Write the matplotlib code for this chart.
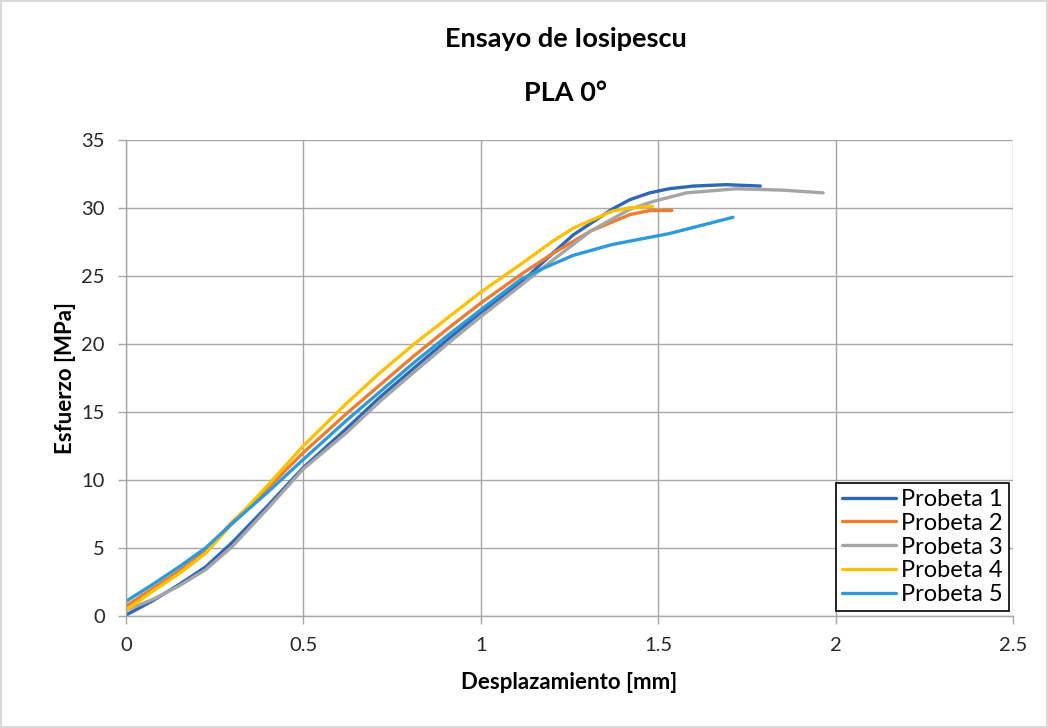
import matplotlib.pyplot as plt

plt.rcParams['font.family'] = ['Lato', 'DejaVu Sans']

# Probeta 1
x1 = [0, 0.075, 0.15, 0.225, 0.3, 0.4, 0.5, 0.623, 0.717, 0.811, 0.906, 1.0, 1.113, 1.2, 1.26, 1.37, 1.42, 1.476, 1.53, 1.6, 1.69, 1.787]
y1 = [0.05, 1.1, 2.3, 3.6, 5.4, 8.1, 10.9, 13.8, 16.1, 18.2, 20.3, 22.3, 24.5, 26.6, 28.0, 29.9, 30.6, 31.1, 31.4, 31.6, 31.7, 31.6]
# Probeta 2
x2 = [0, 0.075, 0.15, 0.225, 0.3, 0.4, 0.5, 0.623, 0.717, 0.811, 0.906, 1.0, 1.113, 1.2, 1.31, 1.42, 1.476, 1.538]
y2 = [0.7, 2.0, 3.3, 4.8, 6.9, 9.4, 12.0, 14.9, 17.0, 19.1, 21.1, 23.0, 25.1, 26.6, 28.3, 29.5, 29.8, 29.8]
# Probeta 3
x3 = [0, 0.075, 0.15, 0.225, 0.3, 0.4, 0.5, 0.623, 0.717, 0.811, 0.906, 1.0, 1.113, 1.2, 1.31, 1.42, 1.49, 1.58, 1.72, 1.85, 1.964]
y3 = [0.4, 1.2, 2.2, 3.4, 5.1, 7.9, 10.8, 13.5, 15.8, 17.9, 20.0, 22.0, 24.3, 26.1, 28.3, 29.9, 30.5, 31.1, 31.4, 31.3, 31.1]
# Probeta 4
x4 = [0, 0.075, 0.15, 0.225, 0.3, 0.4, 0.5, 0.623, 0.717, 0.811, 0.906, 1.0, 1.113, 1.2, 1.26, 1.37, 1.42, 1.484]
y4 = [0.4, 1.8, 3.1, 4.6, 6.8, 9.6, 12.5, 15.65, 17.9, 19.96, 21.9, 23.8, 25.86, 27.5, 28.5, 29.75, 30.0, 30.1]
# Probeta 5
x5 = [0, 0.075, 0.15, 0.225, 0.3, 0.4, 0.5, 0.623, 0.717, 0.811, 0.906, 1.0, 1.113, 1.18, 1.26, 1.37, 1.53, 1.71]
y5 = [1.06, 2.3, 3.6, 5.0, 6.8, 9.1, 11.5, 14.4, 16.5, 18.6, 20.6, 22.5, 24.75, 25.6, 26.5, 27.3, 28.1, 29.3]

labels = ["Probeta 1", "Probeta 2", "Probeta 3", "Probeta 4", "Probeta 5"]
colors = ["#2E67B8", "#ED7D31", "#A5A5A5", "#FFC000", "#2E9BD8"]

fig = plt.figure(figsize=(10.48, 7.28), dpi=100)
fig.patch.set_edgecolor("#D9D9D9")
fig.patch.set_linewidth(1.5)
ax = fig.add_axes([0.120, 0.154, 0.847, 0.654])

for xs, ys, lab, c in zip([x1, x2, x3, x4, x5], [y1, y2, y3, y4, y5], labels, colors):
    ax.plot(xs, ys, color=c, lw=2.4, label=lab, solid_capstyle='round', solid_joinstyle='round')

ax.set_xlim(0, 2.5)
ax.set_ylim(0, 35)
ax.set_xticks([0, 0.5, 1, 1.5, 2, 2.5])
ax.set_xticklabels(["0", "0.5", "1", "1.5", "2", "2.5"])
ax.set_yticks(range(0, 36, 5))
ax.grid(True, color="#A6A6A6", lw=1)
ax.set_axisbelow(True)
for s in ["top", "right"]:
    ax.spines[s].set_visible(False)
for s in ["left", "bottom"]:
    ax.spines[s].set_color("#A6A6A6")
    ax.spines[s].set_linewidth(1)
ax.tick_params(length=6, width=1, color="#A6A6A6", labelsize=14.5, pad=9, labelcolor="#262626")

ax.set_xlabel("Desplazamiento [mm]", fontsize=16, fontweight="bold", labelpad=13)
ax.set_ylabel("Esfuerzo [MPa]", fontsize=16, fontweight="bold", labelpad=4)
fig.text(0.54, 0.946, "Ensayo de Iosipescu", ha="center", va="center", fontsize=19.5, fontweight="bold")
fig.text(0.54, 0.872, "PLA 0°", ha="center", va="center", fontsize=19.5, fontweight="bold")

leg = ax.legend(loc="lower right", fontsize=17, fancybox=False, framealpha=1,
                edgecolor="black", borderaxespad=0.2, handlelength=2.3,
                handletextpad=0.2, labelspacing=0.12, borderpad=0.25)
leg.get_frame().set_linewidth(1.2)

fig.savefig("out.png", dpi=100)
